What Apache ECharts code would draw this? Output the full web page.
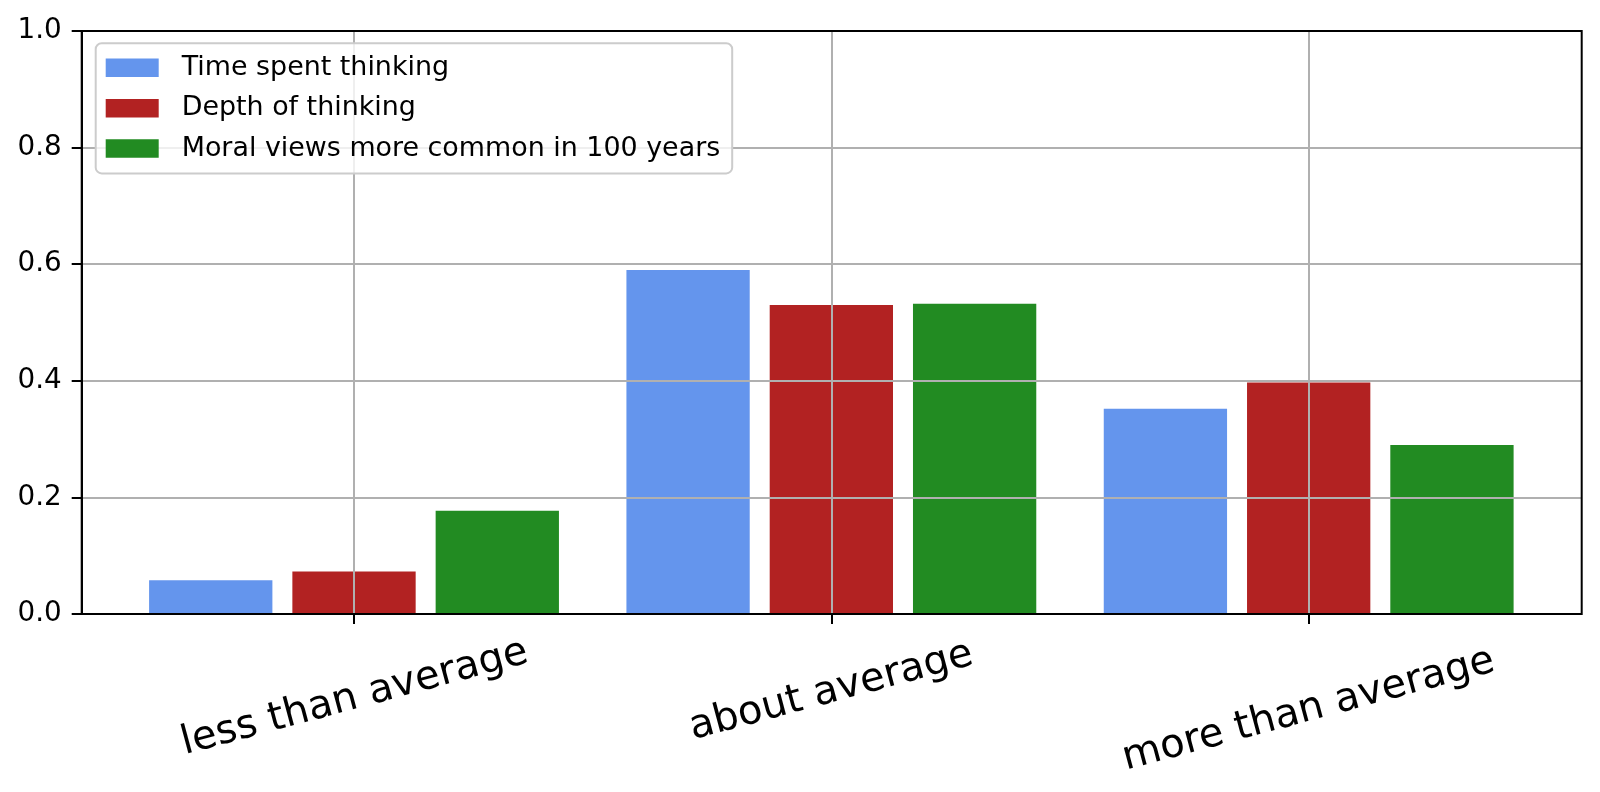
<!DOCTYPE html>
<html>
<head>
<meta charset="utf-8">
<script src="https://cdn.jsdelivr.net/npm/echarts@6/dist/echarts.min.js"></script>
<style>
html,body{margin:0;padding:0;background:#fff;}
#chart{width:1600px;height:792px;}
</style>
</head>
<body>
<div id="chart"></div>
<script>
const categories = ['less than average', 'about average', 'more than average'];
const seriesNames = ['Time spent thinking', 'Depth of thinking', 'Moral views more common in 100 years'];
const timeSpent = [0.058, 0.590, 0.352];
const depth = [0.073, 0.530, 0.397];
const moralViews = [0.177, 0.532, 0.290];
const yTicks = [0.0, 0.2, 0.4, 0.6, 0.8, 1.0];
const colors = ['#6495ED', '#B22222', '#228B22'];

const FONT = 'DejaVu Sans';
const GRID_TOP = 31, GRID_H = 583;
const labelRich = {
  l0: {padding: [13, 2, 0, 0], fontSize: 40, fontFamily: FONT, color: '#000'},
  l1: {padding: [0, 0, 0, 0], fontSize: 40, fontFamily: FONT, color: '#000'},
  l2: {padding: [36, 10, 0, 0], fontSize: 40, fontFamily: FONT, color: '#000'}
};

const chart = echarts.init(document.getElementById('chart'), null, {renderer: 'canvas'});
chart.setOption({
  animation: false,
  backgroundColor: '#fff',
  grid: [
    {left: 81.7, top: GRID_TOP, width: 1500, height: GRID_H, show: true, borderColor: '#000', borderWidth: 2, backgroundColor: 'transparent', z: 5},
    {left: 115.35, top: GRID_TOP, width: 1432, height: GRID_H}
  ],
  legend: {
    data: seriesNames,
    orient: 'vertical',
    left: 95.7,
    top: 43.3,
    padding: [10.5, 12, 10.8, 10],
    itemWidth: 53,
    itemHeight: 18.5,
    itemGap: 12.4,
    icon: 'rect',
    backgroundColor: 'rgba(255,255,255,0.8)',
    borderColor: '#cccccc',
    borderWidth: 2,
    borderRadius: 6,
    z: 6,
    textStyle: {fontFamily: FONT, fontSize: 26.9, color: '#000', lineHeight: 28, padding: [0, 0, 0, 18]}
  },
  xAxis: [
    {gridIndex: 0, type: 'value', min: 0, max: 1, show: false},
    {
      gridIndex: 1, type: 'category', data: categories,
      axisLine: {show: false},
      axisTick: {show: true, alignWithLabel: true, length: 10, lineStyle: {color: '#000', width: 2}},
      axisLabel: {
        rotate: 15, align: 'center', verticalAlign: 'middle', margin: 77.5,
        fontFamily: FONT, fontSize: 40, color: '#000',
        formatter: function (v, i) { return '{l' + i + '|' + v + '}'; },
        rich: labelRich
      },
      splitLine: {show: false}
    },
    {
      gridIndex: 1, type: 'category', data: categories, z: 3,
      axisLine: {show: false},
      axisTick: {show: true, alignWithLabel: true, inside: true, length: GRID_H, lineStyle: {color: '#b0b0b0', width: 2}},
      axisLabel: {show: false},
      splitLine: {show: false}
    }
  ],
  yAxis: [
    {
      gridIndex: 0, type: 'value', min: 0, max: 1, interval: 0.2, z: 3,
      axisLine: {show: true, lineStyle: {color: '#000', width: 2}},
      axisTick: {show: true, length: 10, lineStyle: {color: '#000', width: 2}},
      axisLabel: {margin: 20, fontFamily: FONT, fontSize: 27.8, color: '#000', formatter: function (v) { return v.toFixed(1); }},
      splitLine: {show: true, lineStyle: {color: '#b0b0b0', width: 2}}
    },
    {gridIndex: 1, type: 'value', min: 0, max: 1, show: false, splitLine: {show: false}}
  ],
  series: [
    {name: seriesNames[0], type: 'bar', xAxisIndex: 1, yAxisIndex: 1, data: timeSpent, barWidth: 123.3, barGap: '16.2%', itemStyle: {color: colors[0]}},
    {name: seriesNames[1], type: 'bar', xAxisIndex: 1, yAxisIndex: 1, data: depth, barWidth: 123.3, barGap: '16.2%', itemStyle: {color: colors[1]}},
    {name: seriesNames[2], type: 'bar', xAxisIndex: 1, yAxisIndex: 1, data: moralViews, barWidth: 123.3, barGap: '16.2%', itemStyle: {color: colors[2]}}
  ]
});
</script>
</body>
</html>
